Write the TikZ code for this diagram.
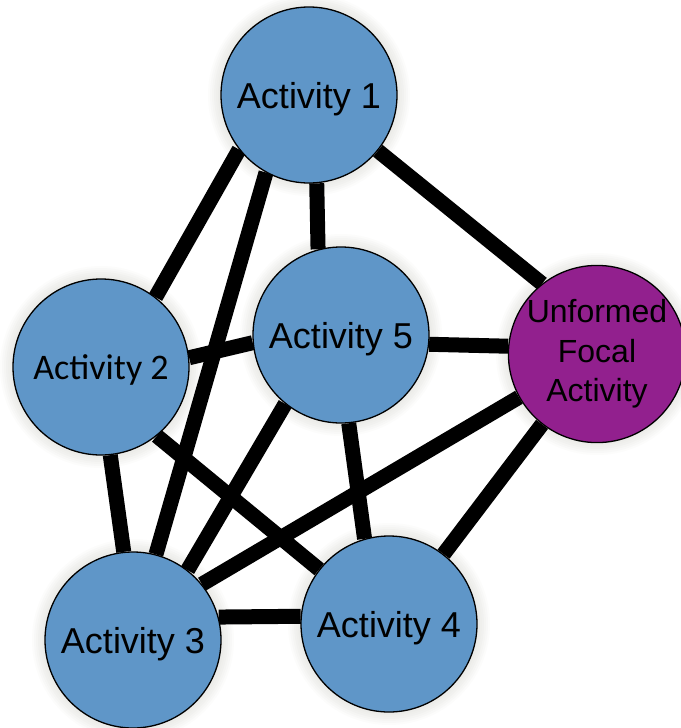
\documentclass[tikz,border=0pt]{standalone}
\usepackage{fontspec}
\setmainfont{Liberation Sans}
\newfontfamily\calibrifont{Carlito}
\pgfdeclarelayer{glow}
\pgfdeclarelayer{edges}
\pgfsetlayers{glow,edges,main}
\definecolor{actblue}{RGB}{95,150,200}
\definecolor{focalpurple}{RGB}{146,32,142}
\definecolor{haze}{RGB}{110,110,90}
\begin{document}
\begin{tikzpicture}[x=1pt,y=-1pt,
  bubble/.style={circle, draw=black, line width=1.3pt,
    minimum size=176pt, inner sep=0pt, text=black},
  activity/.style={bubble, fill=actblue, text depth=0pt,
    font=\fontsize{36}{40}\selectfont},
  focal/.style={bubble, fill=focalpurple, align=center,
    font=\fontsize{32}{39.5}\selectfont},
  link/.style={draw=black, line width=15pt, line cap=butt}]
\useasboundingbox (0,0) rectangle (680,728);

% activity circles
\node[activity] (a1) at (309,95)  {Activity 1};
\node[activity] (a2) at (101,367) {\calibrifont Activity 2};
\node[activity] (a3) at (133,640) {Activity 3};
\node[activity] (a4) at (389,624) {Activity 4};
\node[activity] (a5) at (341,335) {Activity 5};
\node[focal]    (f)  at (597,354) {Unformed\\Focal\\Activity};

% soft halo behind each circle
\begin{pgfonlayer}{glow}
  \foreach \n in {a1,a2,a3,a4,a5}
    \foreach \r in {89,91,...,101}
      \fill[haze, opacity=0.022] (\n.center) circle[radius=\r pt];
  \foreach \r in {89,91,...,101}
    \fill[haze, opacity=0.022] (f.center) circle[radius=\r pt];
\end{pgfonlayer}

% thick links between activities
\begin{pgfonlayer}{edges}
  \draw[link] (a1.218) -- (a2.52);
  \draw[link] (a1.241) -- (a3.75);
  \draw[link] (a1.275) -- (a5.105);
  \draw[link] (a1.321) -- (f.128);
  \draw[link] (a2.6)   -- (a5.185);
  \draw[link] (a2.276) -- (a3.96);
  \draw[link] (a2.309) -- (a4.142);
  \draw[link] (a5.354) -- (f.175);
  \draw[link] (a5.231) -- (a3.52);
  \draw[link] (a5.275) -- (a4.106);
  \draw[link] (f.209)  -- (a3.39);
  \draw[link] (f.232)  -- (a4.52);
  \draw[link] (a3.15)  -- (a4.175);
\end{pgfonlayer}
\end{tikzpicture}
\end{document}
